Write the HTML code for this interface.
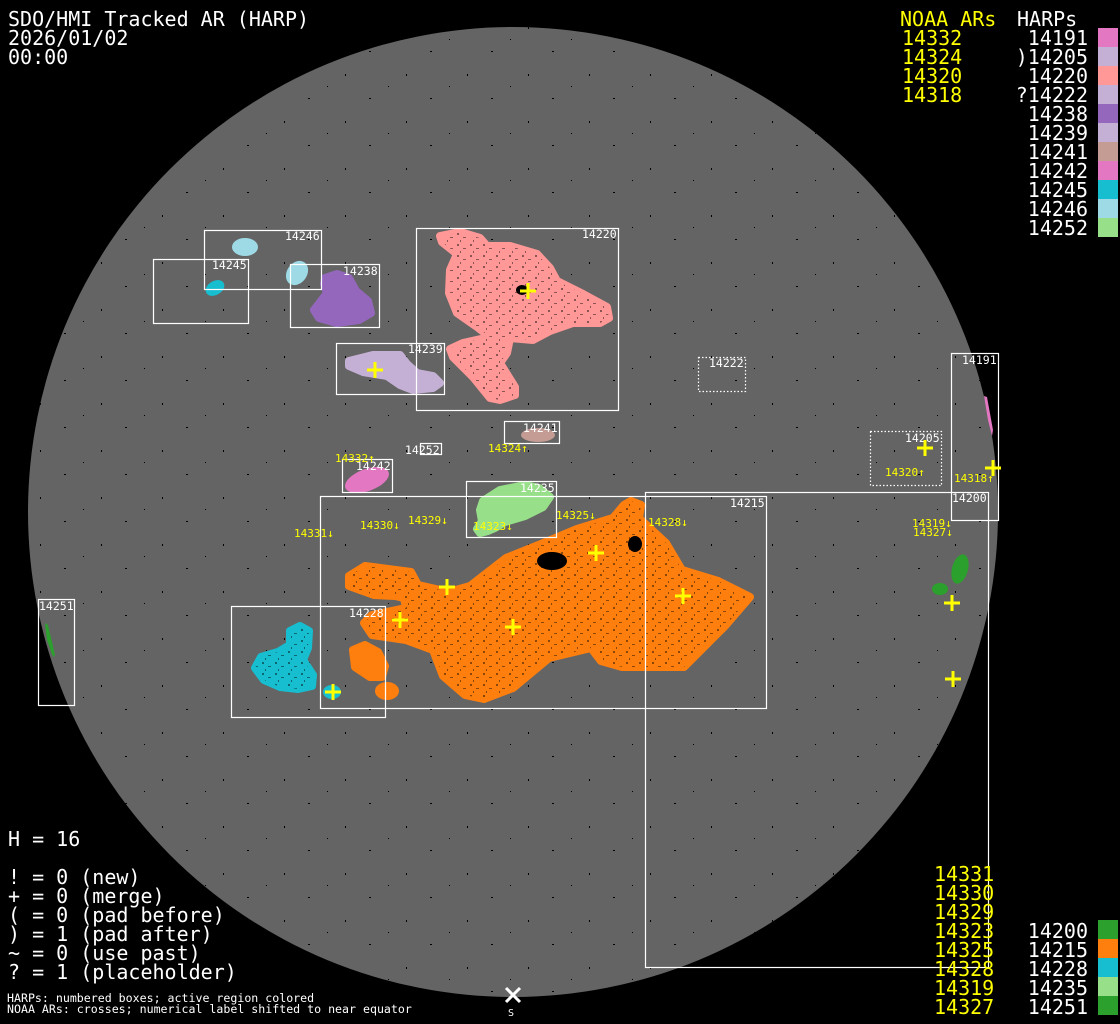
<!DOCTYPE html>
<html><head><meta charset="utf-8"><style>
html,body{margin:0;padding:0;background:#000;}
svg{display:block}
text{font-family:"DejaVu Sans Mono","Liberation Mono",monospace;}
</style></head><body>
<svg width="1120" height="1024" viewBox="0 0 1120 1024" xmlns="http://www.w3.org/2000/svg">
<defs>
<pattern id="sp" width="61" height="47" patternUnits="userSpaceOnUse">
<rect x="3" y="4" width="2" height="1" fill="#000"/><rect x="40" y="27" width="1" height="2" fill="#000"/><rect x="22" y="39" width="1" height="1" fill="#000"/>
</pattern>
<pattern id="dk" width="13" height="11" patternUnits="userSpaceOnUse">
<rect x="2" y="2" width="2" height="2" fill="#000"/><rect x="8" y="6" width="3" height="1" fill="#000"/><rect x="5" y="9" width="1" height="2" fill="#000"/>
</pattern>
</defs>
<circle cx="513" cy="512" r="485" fill="#646464"/>
<circle cx="513" cy="512" r="485" fill="url(#sp)"/>

<g fill="#fff" font-size="20">
<text x="8" y="26">SDO/HMI Tracked AR (HARP)</text>
<text x="8" y="45">2026/01/02</text>
<text x="8" y="64">00:00</text>
</g>

<g stroke-linejoin="round" stroke-width="8">
<path fill="#ff9896" stroke="#ff9896" d="M440,236 L460,232 L480,238 L487,246 L510,246 L537,254 L550,268 L557,281 L583,294 L607,307 L609,318 L600,323 L573,323 L550,331 L533,340 L510,338 L507,353 L500,363 L515,387 L515,395 L500,400 L490,398 L473,377 L453,357 L450,349 L463,343 L490,337 L477,327 L457,313 L449,293 L450,270 L457,254 L442,242 Z"/>
<path fill="#9467bd" stroke="#9467bd" d="M325,278 L337,274 L349,278 L356,291 L368,301 L371,313 L359,320 L337,323 L319,318 L314,310 L321,301 L327,293 L324,284 Z"/>
<path fill="#c5b0d5" stroke="#c5b0d5" d="M349,361 L373,355 L400,355 L407,364 L417,373 L433,376 L440,383 L433,388 L413,390 L400,385 L387,376 L363,372 L349,366 Z"/>
<path fill="#98df8a" stroke="#98df8a" d="M483,501 L500,490 L525,485 L539,488 L550,497 L543,507 L525,516 L505,522 L495,528 L488,531 L480,533 L477,529 L482,521 L480,510 Z"/>
<path fill="#ff7f0e" stroke="#ff7f0e" d="M631,501 L641,505 L639,518 L666,543 L682,570 L718,581 L750,597 L725,626 L684,667 L622,667 L601,661 L591,648 L549,658 L513,688 L484,699 L465,695 L443,676 L433,650 L406,640 L372,635 L364,623 L372,615 L406,608 L404,598 L395,596 L374,595 L349,586 L349,576 L365,566 L411,572 L418,585 L449,592 L470,586 L506,558 L541,544 L577,529 L613,518 L624,505 Z"/>
<path fill="#ff7f0e" stroke="#ff7f0e" d="M353,650 L365,645 L378,652 L385,666 L382,677 L370,677 L355,667 Z"/>
<path fill="#17becf" stroke="#17becf" d="M290,631 L300,626 L309,631 L308,648 L303,660 L313,675 L312,686 L298,689 L280,687 L264,680 L255,668 L261,657 L278,652 L290,645 Z"/>
</g>
<g>
<ellipse cx="245" cy="247" rx="13" ry="9" fill="#9edae5"/>
<ellipse cx="297" cy="273" rx="10" ry="13" transform="rotate(35 297 273)" fill="#9edae5"/>
<ellipse cx="215" cy="288" rx="10" ry="7" transform="rotate(-30 215 288)" fill="#17becf"/>
<ellipse cx="538" cy="435" rx="17" ry="7" fill="#c49c94"/>
<ellipse cx="367" cy="480" rx="23" ry="11" transform="rotate(-20 367 480)" fill="#e377c2"/>
<ellipse cx="387" cy="691" rx="12" ry="9" fill="#ff7f0e"/>
<ellipse cx="332" cy="692" rx="9" ry="7" fill="#17becf"/>
<ellipse cx="960" cy="569" rx="8" ry="15" transform="rotate(15 960 569)" fill="#2ca02c"/>
<ellipse cx="940" cy="589" rx="8" ry="6" fill="#2ca02c"/>
<path fill="#e377c2" d="M984,396 L987,397 L993,430 L992,436 L988,420 Z"/>
<path fill="#2ca02c" d="M45,623 L48,625 L55,655 L53,657 L47,640 Z"/>
</g>
<g fill="url(#dk)" opacity="0.45">
<path d="M631,501 L641,505 L639,518 L666,543 L682,570 L718,581 L750,597 L725,626 L684,667 L622,667 L601,661 L591,648 L549,658 L513,688 L484,699 L465,695 L443,676 L433,650 L406,640 L372,635 L364,623 L372,615 L406,608 L404,598 L395,596 L374,595 L349,586 L349,576 L365,566 L411,572 L418,585 L449,592 L470,586 L506,558 L541,544 L577,529 L613,518 L624,505 Z"/>
<path d="M440,236 L460,232 L480,238 L487,246 L510,246 L537,254 L550,268 L557,281 L583,294 L607,307 L609,318 L600,323 L573,323 L550,331 L533,340 L510,338 L507,353 L500,363 L515,387 L515,395 L500,400 L490,398 L473,377 L453,357 L450,349 L463,343 L490,337 L477,327 L457,313 L449,293 L450,270 L457,254 L442,242 Z"/>
<path d="M290,631 L300,626 L309,631 L308,648 L303,660 L313,675 L312,686 L298,689 L280,687 L264,680 L255,668 L261,657 L278,652 L290,645 Z"/>
</g>
<ellipse cx="552" cy="561" rx="15" ry="9" fill="#000"/>
<ellipse cx="635" cy="544" rx="7" ry="8" fill="#000"/>
<ellipse cx="522" cy="290" rx="6" ry="5" fill="#000"/>

<g fill="none" stroke="#fff" stroke-width="1.2">
<rect x="204.5" y="230.5" width="117" height="59"/>
<rect x="153.5" y="259.5" width="95" height="64"/>
<rect x="290.5" y="264.5" width="89" height="63"/>
<rect x="416.5" y="228.5" width="202" height="182"/>
<rect x="336.5" y="343.5" width="108" height="51"/>
<rect x="951.5" y="353.5" width="47" height="167"/>
<rect x="504.5" y="421.5" width="55" height="22"/>
<rect x="420.5" y="443.5" width="21" height="11"/>
<rect x="342.5" y="459.5" width="50" height="33"/>
<rect x="466.5" y="481.5" width="90" height="56"/>
<rect x="320.5" y="496.5" width="446" height="212"/>
<rect x="645.5" y="492.5" width="343" height="475"/>
<rect x="231.5" y="606.5" width="154" height="111"/>
<rect x="38.5" y="599.5" width="36" height="106"/>
</g>
<g fill="none" stroke="#fff" stroke-width="1.2" stroke-dasharray="1.5,2">
<rect x="698.5" y="357.5" width="47" height="34"/>
<rect x="870.5" y="431.5" width="71" height="54"/>
</g>
<g fill="#fff" font-size="11.5">
<text x="285" y="240">14246</text>
<text x="212" y="269">14245</text>
<text x="343" y="275">14238</text>
<text x="582" y="238">14220</text>
<text x="408" y="353">14239</text>
<text x="709" y="367">14222</text>
<text x="962" y="364">14191</text>
<text x="905" y="442">14205</text>
<text x="523" y="432">14241</text>
<text x="405" y="454">14252</text>
<text x="356" y="470">14242</text>
<text x="520" y="492">14235</text>
<text x="730" y="507">14215</text>
<text x="952" y="502">14200</text>
<text x="349" y="617">14228</text>
<text x="39" y="610">14251</text>
</g>
<g fill="#ff0" font-size="11">
<text x="335" y="462">14332↑</text>
<text x="488" y="452">14324↑</text>
<text x="885" y="476">14320↑</text>
<text x="954" y="482">14318↑</text>
<text x="294" y="537">14331↓</text>
<text x="360" y="529">14330↓</text>
<text x="408" y="524">14329↓</text>
<text x="473" y="530">14323↓</text>
<text x="556" y="519">14325↓</text>
<text x="648" y="526">14328↓</text>
<text x="912" y="527">14319↓</text>
<text x="913" y="536">14327↓</text>
</g>
<g stroke="#ff0" stroke-width="3">
<path d="M520,291h16M528,283v16 M367,370h16M375,362v16 M917,448h16M925,440v16 M985,468h16M993,460v16 M588,553h16M596,545v16 M439,587h16M447,579v16 M675,596h16M683,588v16 M392,620h16M400,612v16 M505,627h16M513,619v16 M325,692h16M333,684v16 M944,603h16M952,595v16 M945,679h16M953,671v16"/>
</g>
<path d="M506,988L520,1002M520,988L506,1002" stroke="#fff" stroke-width="3"/>
<text x="508" y="1016" fill="#fff" font-size="10">S</text>

<g font-size="20">
<text x="900" y="26" fill="#ff0">NOAA ARs</text>
<text x="1017" y="26" fill="#fff">HARPs</text>
<g fill="#ff0">
<text x="902" y="45">14332</text><text x="902" y="64">14324</text><text x="902" y="83">14320</text><text x="902" y="102">14318</text>
</g>
<g fill="#fff" text-anchor="end">
<text x="1088" y="45">14191</text><text x="1088" y="64">)14205</text><text x="1088" y="83">14220</text><text x="1088" y="102">?14222</text>
<text x="1088" y="121">14238</text><text x="1088" y="140">14239</text><text x="1088" y="159">14241</text><text x="1088" y="178">14242</text>
<text x="1088" y="197">14245</text><text x="1088" y="216">14246</text><text x="1088" y="235">14252</text>
</g>
</g>
<g>
<rect x="1098" y="28" width="20" height="19" fill="#e377c2"/>
<rect x="1098" y="47" width="20" height="19" fill="#c5b0d5"/>
<rect x="1098" y="66" width="20" height="19" fill="#ff9896"/>
<rect x="1098" y="85" width="20" height="19" fill="#c5b0d5"/>
<rect x="1098" y="104" width="20" height="19" fill="#9467bd"/>
<rect x="1098" y="123" width="20" height="19" fill="#c5b0d5"/>
<rect x="1098" y="142" width="20" height="19" fill="#c49c94"/>
<rect x="1098" y="161" width="20" height="19" fill="#e377c2"/>
<rect x="1098" y="180" width="20" height="19" fill="#17becf"/>
<rect x="1098" y="199" width="20" height="19" fill="#9edae5"/>
<rect x="1098" y="218" width="20" height="19" fill="#98df8a"/>
</g>

<g fill="#fff" font-size="20">
<text x="8" y="846">H = 16</text>
<text x="8" y="884">! = 0 (new)</text>
<text x="8" y="903">+ = 0 (merge)</text>
<text x="8" y="922">( = 0 (pad before)</text>
<text x="8" y="941">) = 1 (pad after)</text>
<text x="8" y="960">~ = 0 (use past)</text>
<text x="8" y="979">? = 1 (placeholder)</text>
</g>
<g fill="#fff" font-size="11.6">
<text x="7" y="1002">HARPs: numbered boxes; active region colored</text>
<text x="7" y="1013">NOAA ARs: crosses; numerical label shifted to near equator</text>
</g>

<g fill="#ff0" font-size="20">
<text x="934" y="881">14331</text><text x="934" y="900">14330</text><text x="934" y="919">14329</text><text x="934" y="938">14323</text>
<text x="934" y="957">14325</text><text x="934" y="976">14328</text><text x="934" y="995">14319</text><text x="934" y="1014">14327</text>
</g>
<g fill="#fff" font-size="20" text-anchor="end">
<text x="1088" y="938">14200</text><text x="1088" y="957">14215</text><text x="1088" y="976">14228</text><text x="1088" y="995">14235</text><text x="1088" y="1014">14251</text>
</g>
<rect x="1098" y="920" width="20" height="19" fill="#2ca02c"/>
<rect x="1098" y="939" width="20" height="19" fill="#ff7f0e"/>
<rect x="1098" y="958" width="20" height="19" fill="#17becf"/>
<rect x="1098" y="977" width="20" height="19" fill="#98df8a"/>
<rect x="1098" y="996" width="20" height="19" fill="#2ca02c"/>
</svg>
</body></html>
